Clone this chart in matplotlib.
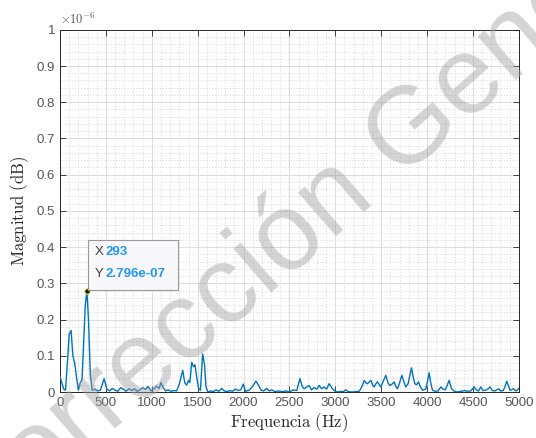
import matplotlib.pyplot as plt
import numpy as np
from matplotlib.ticker import FuncFormatter, MultipleLocator

# spectrum, magnitude in units of 1e-8
freq = [0, 20, 40, 60, 80, 100, 120, 140, 160, 180, 200, 220, 240, 260, 275, 293, 310, 330, 350,
        380, 410, 440, 480, 510, 540, 570, 600, 630, 660, 690, 720, 750, 780, 810, 840, 870,
        900, 930, 960, 990, 1020, 1050, 1080, 1100, 1120, 1150, 1180, 1210, 1240, 1270,
        1300, 1337, 1360, 1380, 1400, 1415, 1435, 1455, 1470, 1490, 1510, 1530, 1554, 1575,
        1590, 1610, 1640, 1670, 1700, 1730, 1762, 1790, 1820, 1850, 1880, 1910, 1940, 1970,
        1997, 2020, 2060, 2100, 2135, 2160, 2190, 2220, 2250, 2280, 2310, 2340, 2380, 2420,
        2460, 2500, 2540, 2580, 2614, 2640, 2660, 2690, 2715, 2740, 2770, 2800, 2823, 2850,
        2877, 2905, 2932, 2968, 2995, 3023, 3060, 3090, 3113, 3140, 3180, 3220, 3260, 3290,
        3315, 3335, 3350, 3370, 3387, 3405, 3423, 3440, 3460, 3480, 3496, 3520, 3550, 3575,
        3594, 3620, 3641, 3660, 3677, 3700, 3725, 3745, 3768, 3793, 3812, 3830, 3850, 3866,
        3885, 3906, 3925, 3950, 3986, 4005, 4022, 4040, 4059, 4090, 4120, 4150, 4175, 4200,
        4240, 4265, 4290, 4331, 4370, 4410, 4440, 4477, 4513, 4540, 4560, 4585, 4610, 4640,
        4660, 4687, 4712, 4740, 4778, 4800, 4830, 4850, 4868, 4890, 4904, 4920, 4940, 4970, 5000]
mag_e8 = [4.2, 2.5, 0.8, 0.5, 8, 16, 17, 10, 8, 4, 0.5, 2.5, 3.5, 15, 24, 27.96, 20, 5, 0.5,
          0.8, 0.3, 0.5, 3.7, 0.8, 0.3, 1.0, 0.5, 0.2, 1.2, 0.8, 0.2, 0.9, 0.4, 0.9, 0.2, 0.6,
          1.2, 0.7, 1.5, 0.3, 0.8, 1.6, 1.0, 2.6, 1.4, 0.3, 0.6, 0.2, 0.4, 0.3,
          2.2, 6.0, 2.5, 1.9, 3.2, 2.6, 8.2, 7.0, 7.5, 4.0, 1.0, 0.5, 10.5, 7.5,
          1.5, 0.0, 0.3, 0.1, 0.6, 0.2, 1.0, 0.3, 0.1, 0.4, 0.2, 0.8, 0.4, 0.6,
          2.2, 0.2, 0.5, 1.6, 3.0, 2.0, 0.5, 0.3, 1.0, 0.3, 0.6, 0.1, 0.3, 0.1,
          0.3, 0.0, 0.6, 0.4, 3.7, 1.5, 0.9, 1.4, 1.8, 0.6, 1.2, 0.8, 1.8, 0.9,
          1.4, 0.8, 2.3, 0.9, 0.3, 0.0, 0.2, 0.1, 0.6, 0.1, 0.0, 0.1, 0.2, 1.5,
          3.2, 2.5, 2.3, 2.8, 3.2, 2.0, 1.4, 2.2, 2.8, 2.0, 1.4, 2.8, 4.6, 2.5,
          1.8, 2.2, 2.8, 1.5, 0.9, 2.5, 4.6, 3.0, 1.4, 2.3, 4.5, 6.7, 4.0, 2.3,
          2.0, 2.8, 1.5, 0.5, 0.8, 3.0, 5.3, 2.5, 0.5, 0.2, 0.3, 1.4, 0.8, 0.6,
          3.2, 1.0, 0.3, 0.0, 0.2, 0.4, 0.2, 0.3, 1.4, 0.5, 0.3, 1.4, 0.4, 0.5,
          0.8, 1.4, 0.4, 0.3, 0.9, 0.3, 0.4, 1.5, 3.0, 1.5, 0.5, 0.6, 0.9, 0.3, 1.0]

tip_x = 293
tip_y = 2.796e-07

freq = np.array(freq)
mag = np.array(mag_e8) * 1e-8

plt.rcParams['font.family'] = ['Liberation Sans', 'DejaVu Sans']
plt.rcParams['mathtext.fontset'] = 'cm'

fig = plt.figure(figsize=(5.36, 4.38), dpi=100)
ax = fig.add_axes([0.112, 0.105, 0.856, 0.827])

ax.plot(freq, mag, color='#0072BD', linewidth=1.0, zorder=3)
ax.plot(tip_x, tip_y, 'o', ms=4, mfc='#1a1a1a', mec='#e8e060', mew=0.8, zorder=5)

ax.set_xlim(0, 5000)
ax.set_ylim(0, 1e-6)
ax.xaxis.set_major_locator(MultipleLocator(500))
ax.xaxis.set_minor_locator(MultipleLocator(100))
ax.yaxis.set_major_locator(MultipleLocator(1e-7))
ax.yaxis.set_minor_locator(MultipleLocator(2e-8))
ax.yaxis.set_major_formatter(FuncFormatter(lambda v, _: f'{round(v * 1e6, 3):g}'))

ax.grid(which='major', color='#dcdcdc', linewidth=0.7, linestyle='-')
ax.grid(which='minor', color='#d8d8d8', linewidth=0.6, linestyle=(0, (1.5, 2)))
ax.set_axisbelow(True)

ax.tick_params(which='both', direction='in', top=True, right=True, colors='#262626',
               labelcolor='#555555', labelsize=9.5)
ax.tick_params(which='minor', length=0)
ax.tick_params(which='major', length=4, width=0.6)
for s in ax.spines.values():
    s.set_color('#262626')
    s.set_linewidth(0.7)

ax.set_xlabel(r'$\mathrm{Frequencia\ (Hz)}$', fontsize=12, color='#262626', labelpad=2)
ax.set_ylabel(r'$\mathrm{Magnitud\ (dB)}$', fontsize=12, color='#262626', labelpad=4)
ax.text(0.0, 1.008, r'$\times10^{-6}$', transform=ax.transAxes, fontsize=9,
        color='#555555', ha='left', va='bottom', family='DejaVu Sans')

# data tip
ax.add_patch(plt.Rectangle((310, 2.82e-7), 975, 1.38e-7, facecolor='#f8f8fc',
                           edgecolor='#9a9a9a', linewidth=0.8, zorder=6))
ax.text(380, 3.87e-7, 'X', fontsize=9.5, color='#404040', va='center', zorder=7)
ax.text(500, 3.87e-7, f'{tip_x}', fontsize=9.5, color='#2196f3', fontweight='bold',
        va='center', zorder=7)
ax.text(380, 3.25e-7, 'Y', fontsize=9.5, color='#404040', va='center', zorder=7)
ax.text(500, 3.25e-7, f'{tip_y:.3e}', fontsize=9.5, color='#2196f3', fontweight='bold',
        va='center', zorder=7)

# watermark
fig.text(0.694, 0.532, 'Corrección Generada', fontsize=79, color='#a0a0a0', alpha=0.45,
         rotation=41, ha='center', va='baseline', rotation_mode='anchor',
         family='Liberation Sans', zorder=10)

fig.savefig('out.png', dpi=100)
